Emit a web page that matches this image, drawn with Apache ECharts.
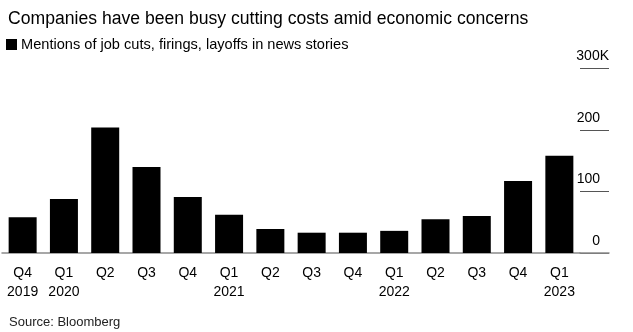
<!DOCTYPE html>
<html>
<head>
<meta charset="utf-8">
<script src="https://cdn.jsdelivr.net/npm/echarts@6/dist/echarts.min.js"></script>
<style>
html,body{margin:0;padding:0;background:#fff;}
#c{width:633px;height:332px;}
</style>
</head>
<body>
<div id="c"></div>
<script>
var categories = ["Q4\n2019","Q1\n2020","Q2","Q3","Q4","Q1\n2021","Q2","Q3","Q4","Q1\n2022","Q2","Q3","Q4","Q1\n2023"];
var mentions = [58, 88, 204, 140, 91, 62, 39, 33, 33, 36, 55, 60, 117, 158];
var yTicks = [0, 100, 200, 300];
var seriesName = "Mentions of job cuts, firings, layoffs in news stories";
var titleText = "Companies have been busy cutting costs amid economic concerns";
var sourceText = "Source: Bloomberg";

var FONT = "Liberation Sans";
var chart = echarts.init(document.getElementById('c'), null, {renderer: 'canvas'});
var gridTop = 68.5, gridBottom = 79;
chart.setOption({
  animation: false,
  backgroundColor: '#fff',
  textStyle: {fontFamily: FONT},
  title: [
    {text: titleText, left: 3, top: 5, textStyle: {fontFamily: FONT, fontSize: 17.6, fontWeight: 'normal', color: '#000'}},
    {text: sourceText, left: 4, top: 311, textStyle: {fontFamily: FONT, fontSize: 13, fontWeight: 'normal', color: '#222'}}
  ],
  legend: {
    left: 1, top: 32, icon: 'rect', itemWidth: 11, itemHeight: 11, itemGap: 4,
    textStyle: {fontFamily: FONT, fontSize: 14.6, color: '#000', padding: [0,0,0,-1]},
    data: [seriesName]
  },
  grid: [
    {left: 2, right: 53, top: gridTop, bottom: gridBottom},
    {left: 580, right: 24, top: gridTop, bottom: gridBottom}
  ],
  xAxis: [
    {type: 'category', gridIndex: 0, data: categories,
     axisLine: {lineStyle: {color: '#8a8a8a', width: 1.5}},
     axisTick: {alignWithLabel: true, length: 6, lineStyle: {color: '#222'}},
     axisLabel: {interval: 0, color: '#000', fontSize: 14, lineHeight: 19, margin: 11, fontFamily: FONT}},
    {type: 'value', gridIndex: 1, min: 0, max: 1,
     axisLine: {show: true, lineStyle: {color: '#8a8a8a', width: 1.5}},
     axisTick: {show: false}, axisLabel: {show: false}, splitLine: {show: false}}
  ],
  yAxis: [
    {type: 'value', gridIndex: 0, min: 0, max: 300, interval: 100, show: false, splitLine: {show: false}},
    {type: 'value', gridIndex: 1, position: 'right', min: 0, max: 300, interval: 100,
     axisLine: {show: false}, axisTick: {show: false},
     splitLine: {show: true, lineStyle: {color: '#555', width: 1}},
     axisLabel: {inside: true, margin: 0, verticalAlign: 'bottom', align: 'right',
       formatter: function (v) {
         if (v === 0) return '{z|0}';
         return v === yTicks[yTicks.length - 1] ? '{k|' + v + 'K}' : '{n|' + v + '}';
       },
       rich: {
         n: {fontSize: 14, color: '#000', fontFamily: FONT, padding: [0, 9, 5, 0]},
         z: {fontSize: 14, color: '#000', fontFamily: FONT, padding: [0, 9, 5, 0]},
         k: {fontSize: 14, color: '#000', fontFamily: FONT, padding: [0, 0, 5, 0]}
       }}}
  ],
  series: [
    {name: seriesName, type: 'bar', xAxisIndex: 0, yAxisIndex: 0, data: mentions,
     barWidth: 28, itemStyle: {color: '#000'}}
  ]
});
</script>
</body>
</html>
